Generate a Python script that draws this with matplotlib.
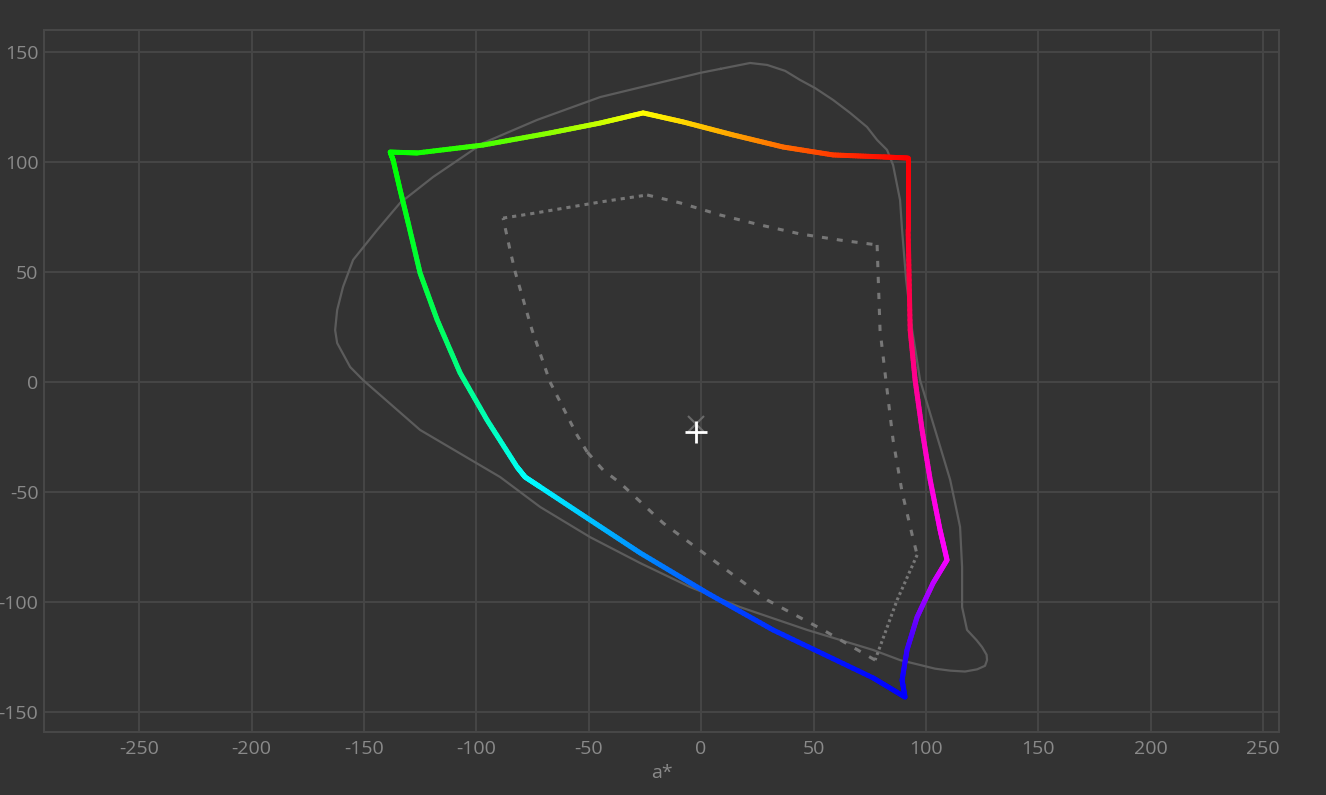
import matplotlib
matplotlib.use("Agg")
import matplotlib.pyplot as plt
import numpy as np
from matplotlib.collections import LineCollection
from matplotlib.colors import hsv_to_rgb

plt.rcParams['font.family'] = ['Open Sans', 'DejaVu Sans']
plt.rcParams['lines.scale_dashes'] = False
plt.rcParams['axes.unicode_minus'] = False

# outer (reference) gamut outline, a*/b*
outer_a = [8.5, 21.8, 29.4, 37.4, 44.0, 50.7, 58.7, 66.3, 73.8, 78.3, 82.7, 85.4, 88.5,
           89.4, 91.2, 93.9, 97.4, 104.1, 110.8, 113.9, 115.2, 116.1, 116.1, 118.3,
           122.5, 125.0, 127.0, 127.2, 126.3, 122.8, 117.4, 110.8, 104.1,
           88.5, 76.5, 47.2, 17.3, -4.9, -27.1, -49.4, -71.6, -89.4, -125.0,
           -150.4, -156.1, -161.9, -162.8, -161.9, -159.3, -154.8, -144.1, -133.9, -119.2,
           -97.0, -73.0, -44.9, -0.4, 8.5]
outer_b = [142.3, 145.0, 144.1, 141.4, 137.3, 133.6, 128.2, 122.3, 115.9, 110.0, 105.5, 98.6, 82.7,
           69.1, 46.4, 23.6, 0.9, -21.8, -44.5, -59.5, -65.9, -84.1, -102.3, -112.7,
           -117.3, -120.5, -124.0, -126.4, -129.0, -130.6, -131.6, -131.2, -130.3,
           -126.4, -121.8, -112.7, -102.3, -93.2, -82.3, -70.5, -56.8, -43.2, -21.8,
           0.9, 6.8, 17.7, 23.6, 32.7, 43.2, 55.5, 69.1, 81.4, 93.2,
           108.6, 119.1, 129.5, 140.5, 142.3]

# device gamut boundary (coloured by hue)
gamut_a = [-138.3, -126.3, -97.0, -67.2, -44.9, -25.8, -8.0, 14.2, 36.5, 58.7, 81.0, 92.1,
           92.1, 93.0, 95.2, 98.3, 101.9, 106.3, 109.4, 103.2, 96.1, 91.6, 89.4, 90.7,
           76.5, 32.0, 2.7, -27.1, -49.4, -71.6, -78.3,
           -81.9, -95.2, -107.2, -117.4, -125.0, -130.3, -133.9, -137.0, -138.3]
gamut_b = [104.5, 104.1, 107.7, 113.2, 117.7, 122.3, 118.2, 112.3, 106.8, 103.2, 102.3, 101.8,
           69.1, 23.6, 0.9, -21.8, -44.5, -67.3, -80.9, -91.4, -106.8, -121.8, -135.5, -143.2,
           -134.5, -112.7, -95.9, -77.7, -62.7, -47.7, -43.2,
           -38.6, -17.3, 4.1, 28.2, 49.5, 72.3, 87.3, 100.9, 104.5]

# inner (working space) gamut
inner_a = [-88.1, -76.1, -60.5, -44.9, -24.0, -9.3, 8.5, 26.2, 44.0, 61.8, 78.3,
           78.7, 79.6, 82.3, 85.4, 89.4, 93.9, 96.1, 87.2, 77.4,
           54.3, 29.4, 5.3, -16.9, -36.0, -43.6, -50.7,
           -55.2, -67.2, -75.2, -82.7, -85.0, -88.1]
inner_b = [74.5, 76.4, 79.1, 81.8, 85.0, 81.4, 75.9, 71.4, 67.3, 64.5, 62.3,
           50.0, 23.6, 0.0, -26.4, -50.0, -69.5, -78.6, -99.1, -126.4,
           -112.7, -99.1, -80.9, -64.1, -45.9, -40.0, -31.8,
           -24.1, 0.0, 23.6, 50.0, 60.0, 74.5]
inner_corners = [0, 4, 10, 17, 19, 26, 32]
inner_dashes = [(3.0, 3.6), (4.3, 6.5), (4.5, 7.0), (2.0, 2.2), (5.0, 7.0), (4.5, 6.0)]

white_point = (-2.2, -22.7)
target_point = (-2.2, -19.0)

xticks = [-250, -200, -150, -100, -50, 0, 50, 100, 150, 200, 250]
yticks = [-150, -100, -50, 0, 50, 100, 150]

bg = '#333333'
fig = plt.figure(figsize=(13.26, 7.95), dpi=100, facecolor=bg)
ax = fig.add_axes([0.0332, 0.0792, 0.9314, 0.8831], facecolor=bg)

ax.plot(outer_a, outer_b, color='#5c5c5c', lw=1.6, zorder=2, solid_joinstyle='round')

for k in range(len(inner_corners) - 1):
    s, e = inner_corners[k], inner_corners[k + 1]
    ln, = ax.plot(inner_a[s:e + 1], inner_b[s:e + 1], color='#777777', lw=2.2, zorder=3)
    ln.set_dashes(inner_dashes[k])

# hue colouring of the gamut boundary: lab hue angle -> display hue
anchor_lab = [47.9, 101.9, 142.9, 208.9, 302.3, 323.5, 407.9]
anchor_hsv = [0, 60, 120, 180, 240, 300, 360]

def hue_color(a, b):
    h = np.degrees(np.arctan2(b, a))
    h = np.where(h < anchor_lab[0], h + 360, h)
    hh = np.interp(h, anchor_lab, anchor_hsv) % 360 / 360.0
    return hsv_to_rgb(np.stack([hh, np.ones_like(hh), np.ones_like(hh)], axis=-1))

ga = np.array(gamut_a)
gb = np.array(gamut_b)
segs, cols = [], []
for i in range(len(ga) - 1):
    t = np.linspace(0, 1, 21)
    xs = ga[i] + (ga[i + 1] - ga[i]) * t
    ys = gb[i] + (gb[i + 1] - gb[i]) * t
    pts = np.column_stack([xs, ys])
    for j in range(len(t) - 1):
        segs.append(pts[j:j + 2])
    mids_a = (xs[:-1] + xs[1:]) / 2
    mids_b = (ys[:-1] + ys[1:]) / 2
    cols.extend(hue_color(mids_a, mids_b))
lc = LineCollection(segs, colors=cols, linewidths=3.6, capstyle='round', zorder=4)
ax.add_collection(lc)

ax.plot(*target_point, marker='x', color='#6a6a6a', ms=11, mew=1.5, zorder=5)
ax.plot(*white_point, marker='+', color='white', ms=16, mew=2.0, zorder=6)

ax.set_xlim(-292.3, 257.1)
ax.set_ylim(-159.1, 160.0)
ax.set_xticks(xticks)
ax.set_yticks(yticks)
ax.grid(True, color='#454545', lw=1.5, zorder=0)
ax.set_axisbelow(True)
ax.tick_params(length=0, colors='#8a8a8a', labelsize=14)
ax.tick_params(axis='x', pad=6)
ax.tick_params(axis='y', pad=4)
for sp in ax.spines.values():
    sp.set_color('#474747')
    sp.set_linewidth(1.5)
ax.set_xlabel('a*', color='#8a8a8a', fontsize=14, labelpad=4)

fig.savefig('out.png', dpi=100, facecolor=bg)
